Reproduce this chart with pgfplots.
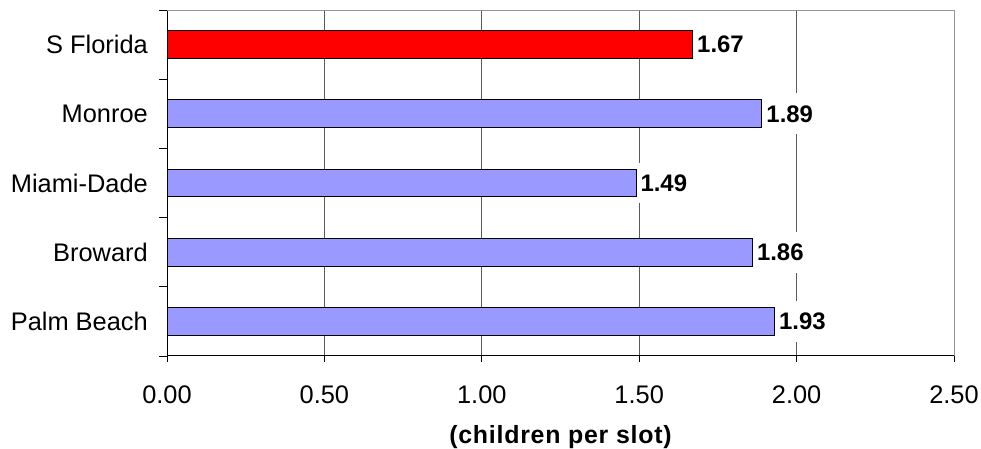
\documentclass[border=0pt]{standalone}
\usepackage{fontspec}
\setmainfont{Liberation Sans}
\usepackage{pgfplots}
\pgfplotsset{compat=1.18}

\definecolor{barblue}{RGB}{153,153,255}
\definecolor{gridgray}{RGB}{90,90,90}
\definecolor{framegray}{RGB}{150,150,150}

\begin{document}
\begin{tikzpicture}
  \useasboundingbox (0,0) rectangle (981bp,449bp);
  \begin{axis}[
      at={(167bp,93bp)}, anchor=south west,
      scale only axis,
      width=787bp, height=346bp,
      xbar,
      bar width=27.7bp,
      xmin=0, xmax=2.5,
      ymin=-0.5, ymax=4.5,
      xtick={0,0.5,...,2.5},
      ytick={0,1,2,3,4},
      yticklabels={Palm Beach,Broward,Miami-Dade,Monroe,S Florida},
      minor ytick={-0.5,0.5,1.5,2.5,3.5,4.5},
      major y tick style={draw=none},
      minor y tick style={black, line width=0.8bp},
      major x tick style={black, line width=0.8bp},
      tick align=outside,
      major tick length=6bp,
      minor tick length=8bp,
      axis x line*=bottom,
      axis y line*=left,
      x axis line style={-, black, line width=1bp},
      y axis line style={-, black, line width=1bp},
      xmajorgrids,
      grid style={gridgray, line width=0.8bp},
      /pgf/number format/assume math mode=true,
      xticklabel={\pgfmathprintnumber[fixed,zerofill,precision=2]{\tick}},
      tick label style={font=\fontsize{25.5}{30}\selectfont},
      xticklabel style={anchor=north, inner sep=0pt, yshift=-24bp},
      yticklabel style={anchor=east, inner sep=0pt, xshift=-13bp},
      xlabel={(children per slot)},
      xlabel style={font=\bfseries\fontsize{25}{30}\selectfont\addfontfeatures{LetterSpace=3}, at={(rel axis cs:0.5,0)}, anchor=base, yshift=-87bp, inner sep=0pt},
      point meta=x,
      nodes near coords={\pgfmathprintnumber[fixed,zerofill,precision=2]{\pgfplotspointmeta}},
      every node near coord/.append style={font=\bfseries\fontsize{24}{28}\selectfont, anchor=west, fill=white, inner xsep=4bp, inner ysep=12bp},
      clip=false,
    ]
    \addplot[fill=barblue, draw=black, line width=1bp, bar shift=0pt]
      coordinates {(1.93,0) (1.86,1) (1.49,2) (1.89,3)};
    \addplot[fill=red, draw=black, line width=1bp, bar shift=0pt]
      coordinates {(1.67,4)};
    \draw[framegray, line width=1bp] (rel axis cs:0,1) -- (rel axis cs:1,1) -- (rel axis cs:1,0);
  \end{axis}
\end{tikzpicture}
\end{document}
